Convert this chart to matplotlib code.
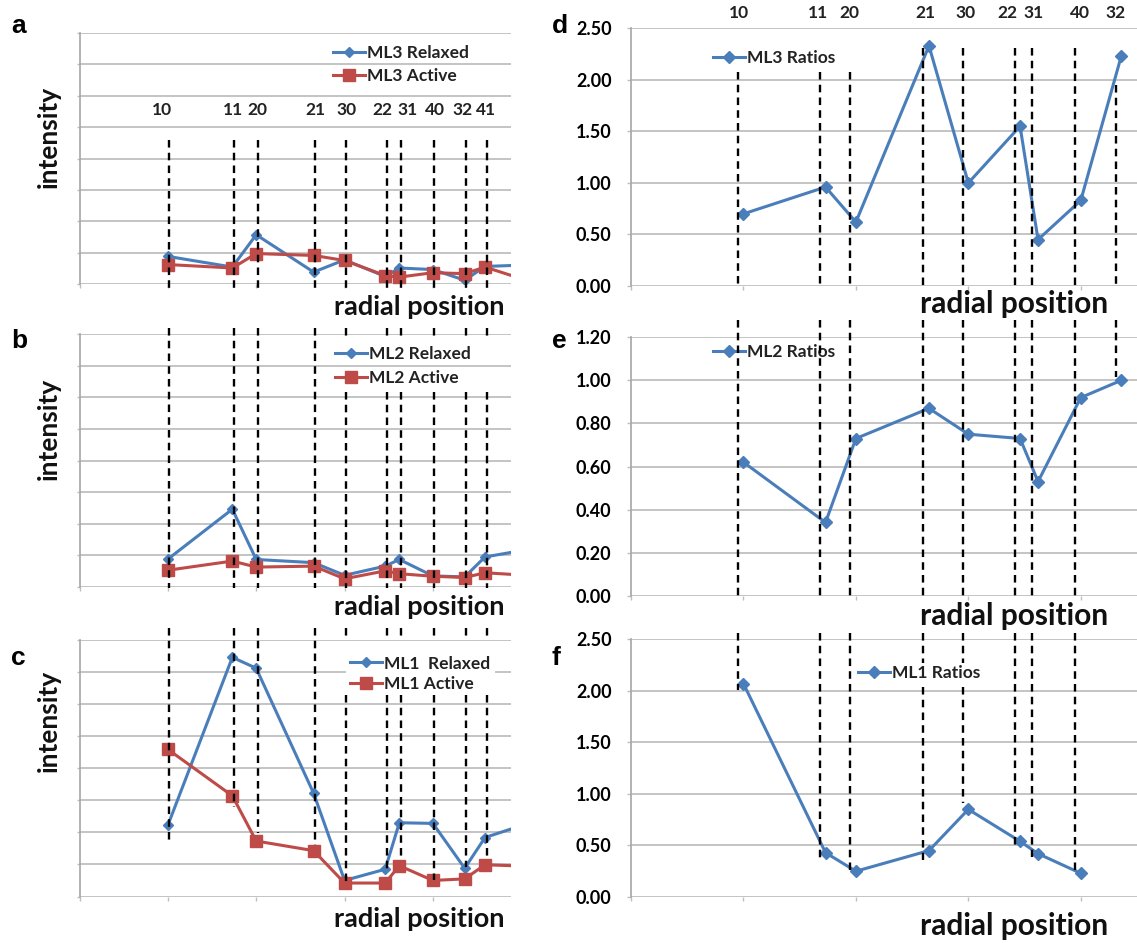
import matplotlib
matplotlib.use('Agg')
import matplotlib.pyplot as plt
from matplotlib.lines import Line2D
from matplotlib.transforms import blended_transform_factory, ScaledTranslation

# ---------------- data ----------------
position_labels = ['10', '11', '20', '21', '30', '22', '31', '40', '32', '41']
radial_x = [1.0, 1.73, 2.0, 2.65, 3.0, 3.46, 3.62, 4.0, 4.36, 4.59]
radial_x_next = 5.0   # next (cropped) position, only the start of the segment is visible

ml3_relaxed = [0.88, 0.54, 1.57, 0.38, 0.77, 0.24, 0.51, 0.46, 0.12, 0.56, 0.60]
ml3_active = [0.62, 0.51, 0.97, 0.91, 0.75, 0.27, 0.22, 0.36, 0.33, 0.54, 0.17]
ml2_relaxed = [0.88, 2.46, 0.87, 0.77, 0.37, 0.66, 0.87, 0.35, 0.32, 0.95, 1.15]
ml2_active = [0.53, 0.82, 0.63, 0.66, 0.26, 0.51, 0.42, 0.34, 0.30, 0.45, 0.38]
ml1_relaxed = [2.22, 7.46, 7.12, 3.22, 0.50, 0.85, 2.30, 2.28, 0.88, 1.84, 2.21]
ml1_active = [4.59, 3.14, 1.73, 1.43, 0.42, 0.42, 0.96, 0.50, 0.55, 0.99, 0.95]

ml3_ratios = [0.70, 0.96, 0.62, 2.33, 1.00, 1.55, 0.45, 0.83, 2.23]
ml2_ratios = [0.62, 0.34, 0.73, 0.87, 0.75, 0.73, 0.53, 0.92, 1.00]
ml1_ratios = [2.07, 0.43, 0.25, 0.45, 0.85, 0.54, 0.42, 0.23]

# ---------------- style ----------------
W, H = 1137, 943
BLUE = '#4A7EBB'
RED = '#BE4B48'
GRID = '#BFBFBF'
SPINE = '#A6A6A6'
FONT = 'Lato'
LETTER_FONT = 'Liberation Sans'

# small horizontal nudges (pixels) of the position labels
left_label_nudge = [-5.9, 0.7, 0.8, 1.4, 2.4, -2.5, 8.5, 2.1, -1.7, 1.0]
right_label_nudge = [-4.2, -7.3, -6.7, -3.8, -2.7, -13, -4.5, -1, -6.2]

fig = plt.figure(figsize=(W / 100, H / 100), dpi=100)
fig.patch.set_facecolor('white')


def fx(px):
    return px / W


def fy(px):
    return 1 - px / H


def add_ax(left, right, top, bottom):
    return fig.add_axes([fx(left), fy(bottom), fx(right) - fx(left), (bottom - top) / H])


def style_ax(ax, xlim, ylim, yticks, labels):
    ax.set_xlim(*xlim)
    ax.set_ylim(*ylim)
    ax.set_yticks(yticks)
    ax.set_xticks([0, 1, 2, 3, 4])
    ax.grid(axis='y', color=GRID, lw=1.3)
    ax.grid(axis='x', visible=False)
    ax.set_axisbelow(True)
    for s in ['top', 'right', 'bottom']:
        ax.spines[s].set_visible(False)
    ax.spines['left'].set_color(SPINE)
    ax.spines['left'].set_linewidth(1.2)
    ax.tick_params(axis='x', length=3, width=1, color=GRID, labelbottom=False)
    if labels:
        ax.set_yticklabels([f'{v:.2f}' for v in yticks])
        ax.tick_params(axis='y', length=3, width=1, color=GRID, pad=11,
                       labelsize=13)
        for t in ax.get_yticklabels():
            t.set_fontfamily(FONT)
            t.set_fontweight('bold')
    else:
        ax.tick_params(axis='y', length=2, width=1, color=GRID, labelleft=False)


left_xlim = (0, 4.884)
right_xlim = (0, 4.5)

ax_a = add_ax(79.5, 511, 33, 284)
ax_b = add_ax(79.5, 511, 334, 587)
ax_c = add_ax(79.5, 511, 640, 896.5)
ax_d = add_ax(631, 1137, 28.3, 286)
ax_e = add_ax(631, 1137, 337.3, 595.7)
ax_f = add_ax(631, 1137, 639.3, 897)

left_x = radial_x + [radial_x_next]
for ax in (ax_a, ax_b, ax_c):
    style_ax(ax, left_xlim, (0, 8), list(range(9)), False)
style_ax(ax_d, right_xlim, (0, 2.5), [0, 0.5, 1.0, 1.5, 2.0, 2.5], True)
style_ax(ax_e, right_xlim, (0, 1.2), [0, 0.2, 0.4, 0.6, 0.8, 1.0, 1.2], True)
style_ax(ax_f, right_xlim, (0, 2.5), [0, 0.5, 1.0, 1.5, 2.0, 2.5], True)

legend_font = {'family': FONT, 'weight': 'bold', 'size': 12.5}


def pair_plot(ax, relaxed, active, names, anchor, spacing, framed=False):
    l1, = ax.plot(left_x, relaxed, color=BLUE, lw=2.2, marker='D', ms=5.4,
                  zorder=3)
    l2, = ax.plot(left_x, active, color=RED, lw=2.2, marker='s', ms=8,
                  zorder=3)
    leg = ax.legend([l1, l2], names, loc='center left', bbox_to_anchor=anchor,
                    bbox_transform=fig.transFigure, frameon=framed,
                    borderpad=0.25 if framed else 0, borderaxespad=0,
                    handlelength=1.85, handletextpad=0.1, labelspacing=spacing,
                    prop=legend_font)
    if framed:
        leg.get_frame().set_facecolor('white')
        leg.get_frame().set_edgecolor('none')
        leg.get_frame().set_alpha(1)
    for t in leg.get_texts():
        t.set_color('#222222')


pair_plot(ax_a, ml3_relaxed, ml3_active, ['ML3 Relaxed', 'ML3 Active'],
          (fx(333), fy(64.5)), 0.45)
pair_plot(ax_b, ml2_relaxed, ml2_active, ['ML2 Relaxed', 'ML2 Active'],
          (fx(335), fy(366)), 0.45)
pair_plot(ax_c, ml1_relaxed, ml1_active, ['ML1  Relaxed', 'ML1 Active'],
          (fx(346), fy(674)), 0.28, framed=True)


def ratio_plot(ax, ratios, name, anchor):
    ln, = ax.plot(radial_x[:len(ratios)], ratios, color=BLUE, lw=2.2,
                  marker='D', ms=6.2, zorder=3)
    leg = ax.legend([ln], [name], loc='center left', bbox_to_anchor=anchor,
                    bbox_transform=fig.transFigure, frameon=False,
                    borderpad=0, borderaxespad=0, handlelength=1.85,
                    handletextpad=0.1, prop=legend_font)
    for t in leg.get_texts():
        t.set_color('#222222')


ratio_plot(ax_d, ml3_ratios, 'ML3 Ratios', (fx(712.7), fy(58)))
ratio_plot(ax_e, ml2_ratios, 'ML2 Ratios', (fx(712.7), fy(352)))
ratio_plot(ax_f, ml1_ratios, 'ML1 Ratios', (fx(858), fy(673)))

# ---------------- dashed position guides ----------------
dash_kw = dict(color='black', lw=1.7, linestyle=(0, (3.2, 2.2)), zorder=5)

left_tr = blended_transform_factory(ax_c.transData, fig.transFigure) + \
    ScaledTranslation(1.1 / 72, 0, fig.dpi_scale_trans)
right_tr = blended_transform_factory(ax_f.transData, fig.transFigure) + \
    ScaledTranslation(-4.0 / 72, 0, fig.dpi_scale_trans)

# vertical extents (pixels from the top) of each guide, per panel
left_seg_c_end = [840, 807, 833, 845, 882, 870, 860, 880, 867, 860]
for i, x in enumerate(radial_x):
    segs = [(140, 288)]
    if i >= 4:   # interrupted by the legend of panel b
        segs += [(328, 340), (392, 588)]
    else:
        segs += [(328, 588)]
    if i >= 4:   # interrupted by the legend of panel c
        segs += [(628, 637), (695, left_seg_c_end[i])]
    else:
        segs += [(628, left_seg_c_end[i])]
    for top, bot in segs:
        fig.add_artist(Line2D([x, x], [fy(top), fy(bot)], transform=left_tr,
                              **dash_kw))

right_seg_d_top = [72, 72, 72, 48, 48, 48, 48, 48, 85]
right_seg_e_end = [598, 598, 598, 598, 598, 598, 598, 598, 377]
right_seg_f_end = [690, 860, 873, 860, 803, 845, 857, 873, None]
for i, x in enumerate(radial_x[:9]):
    segs = [(right_seg_d_top[i], 287), (320, right_seg_e_end[i])]
    if right_seg_f_end[i] is not None:
        if i in (3, 4):   # interrupted by the legend of panel f
            segs += [(633, 663), (687, right_seg_f_end[i])]
        else:
            segs += [(633, right_seg_f_end[i])]
    for top, bot in segs:
        fig.add_artist(Line2D([x, x], [fy(top), fy(bot)], transform=right_tr,
                              **dash_kw))

# position labels above the guides
num_font = dict(family=FONT, weight='bold', size=12.5, color='#222222')
for x, lab, dx in zip(radial_x, position_labels, left_label_nudge):
    tr = blended_transform_factory(ax_c.transData, fig.transFigure) + \
        ScaledTranslation(dx * 0.72 / 72, 0, fig.dpi_scale_trans)
    fig.text(x, fy(110), lab, transform=tr, ha='center', va='center',
             **num_font)
for x, lab, dx in zip(radial_x[:9], position_labels[:9], right_label_nudge):
    tr = blended_transform_factory(ax_f.transData, fig.transFigure) + \
        ScaledTranslation(dx * 0.72 / 72, 0, fig.dpi_scale_trans)
    fig.text(x, fy(12.5), lab, transform=tr, ha='center', va='center',
             **num_font)

# ---------------- axis titles & panel letters ----------------
title_font = dict(family=FONT, weight='bold', color='#111111')
for yc in (137, 429, 721):
    fig.text(fx(49), fy(yc), 'intensity', rotation=90, ha='center',
             va='center', size=19, **title_font)
for yb in (315, 615, 927):
    fig.text(fx(505), fy(yb), 'radial position', ha='right', va='baseline',
             size=19.5, **title_font)
for yb in (313, 625, 935):
    fig.text(fx(1108), fy(yb), 'radial position', ha='right', va='baseline',
             size=21.5, **title_font)

letter_font = dict(family=LETTER_FONT, weight='bold', size=19, color='black')
for lab, x, yb in [('a', 11, 33), ('b', 11, 348), ('c', 11, 665),
                   ('d', 552, 33), ('e', 552, 348), ('f', 552, 665)]:
    fig.text(fx(x), fy(yb), lab, ha='left', va='baseline', **letter_font)

fig.savefig('out.png', dpi=100, facecolor='white')
